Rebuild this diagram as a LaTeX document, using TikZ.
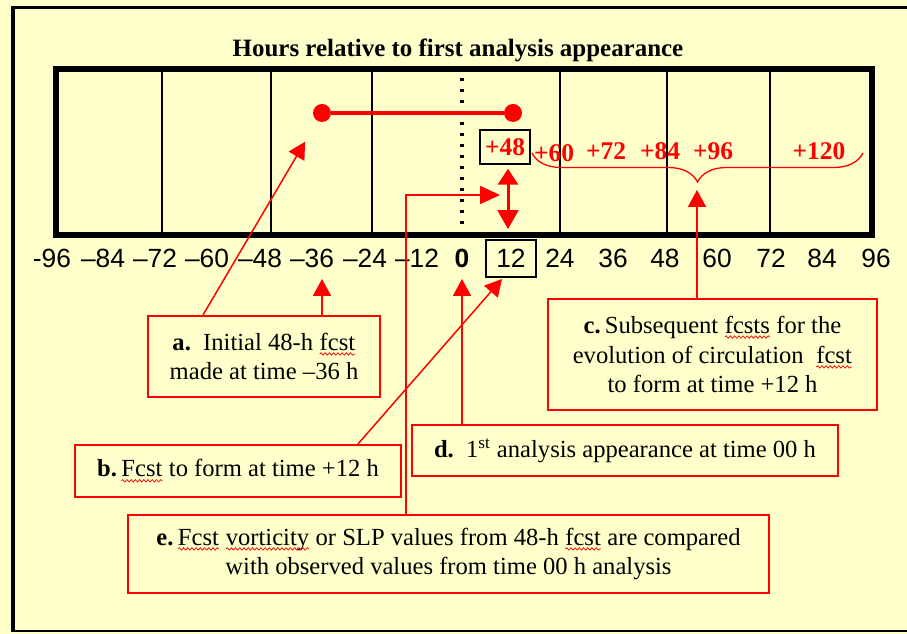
\documentclass[tikz,border=0pt]{standalone}
\usepackage{fontspec}
\setmainfont{Liberation Serif}
\newfontfamily\axisfont{Liberation Sans}
\usetikzlibrary{arrows.meta,decorations.pathreplacing,decorations.pathmorphing}

\definecolor{paper}{RGB}{255,255,204}
\newlength\px
\setlength\px{0.02cm}

% red wavy underline (spell checker marks)
\newcommand\redwave[1]{\tikz[baseline=(w.base)]{%
		\node[draw=none, fill=none, inner sep=0pt, outer sep=0pt, minimum size=0pt] (w) {#1};
		\draw[red, line width=0.4pt, decorate, decoration={snake, amplitude=0.7pt, segment length=2.4pt}]
		([yshift=-2.2pt]w.base west) -- ([yshift=-2.2pt]w.base east);}}

\begin{document}
\begin{tikzpicture}[x=\px, y=-\px,
		note/.style={
			draw=red,
			line width=2\px,
			align=center,
			inner sep=0pt,
			font=\fontsize{14}{17}\selectfont
		},
		tick/.style={inner sep=0pt, font=\axisfont\fontsize{15}{18}\selectfont},
		fc/.style={text=red, inner sep=1pt, font=\bfseries\fontsize{14.5}{17}\selectfont},
		grid/.style={draw, line width=1.3\px},
		dot/.style={circle, fill=red, inner sep=0pt, minimum size=18\px},
		pointer/.style={draw=red, line width=1.5\px, -{Triangle[length=9.6pt, width=10.2pt]}},
		twoway/.style={draw=red, line width=3\px,
			{Triangle[length=9.1pt, width=11.3pt]}-{Triangle[length=10.8pt, width=11.9pt]}}
		]
		
		% Page and frame
		\useasboundingbox (0,0) rectangle (907,634);
		\fill[paper] (0,0) rectangle (907,634);
		\clip (0,0) rectangle (907,634);
		\draw[line width=3\px] (920,8) -- (13,8);
		\draw[line width=4\px] (13,6.5) -- (13,632);
		\draw[line width=2\px] (12,631) -- (920,631);
		
		% Title
		\node[font=\bfseries\fontsize{14.2}{16}\selectfont] (title) at (458,50)
		{Hours relative to first analysis appearance};
		
		% Time strip
		\foreach \x in {162,271,372,560,667,770}
		\draw[grid] (\x,69) -- (\x,235);
		\draw[line width=3.2\px, dash pattern=on 3\px off 8\px] (462,78) -- (462,230);
		\draw[line width=6\px] (56,69) rectangle (872,235);
		
		% Hour axis
		\foreach \x/\lab/\nm in {52/-96/m96, 103/–84/m84, 155/–72/m72, 207/–60/m60,
			260/–48/m48, 312/–36/m36, 365/–24/m24, 417/–12/m12,
			560/24/p24, 613/36/p36, 665/48/p48, 717/60/p60, 771/72/p72,
			822/84/p84, 876/96/p96}
		\node[tick] (\nm) at (\x,258) {\lab};
		\node[tick, font=\axisfont\bfseries\fontsize{15}{18}\selectfont] (h0) at (462,258) {0};
		\node[tick, draw, line width=1.3\px, minimum width=50\px, minimum height=37\px] (h12) at (511,258.5) {12};
		
		% Initial 48-h forecast
		\node[dot] (dotL) at (322,113) {};
		\node[dot] (dotR) at (513,113) {};
		\draw[red, line width=4\px] (dotL) -- (dotR);
		
		% Forecast hours
		\node[fc, draw=black, line width=1.3\px, minimum width=50\px, minimum height=34\px] (f48) at (505,147) {+48};
		\node[fc] (f60) at (554,153) {+60};
		\node[fc] (f72) at (606,151) {+72};
		\node[fc] (f84) at (660,151) {+84};
		\node[fc] (f96) at (713,151) {+96};
		\node[fc] (f120) at (819,151) {+120};
		\draw[red, line width=1.3\px, decorate, decoration={brace, mirror, amplitude=29\px}]
		(532,153) -- (863,153);
		
		% Notes
		\node[note, minimum width=232\px, minimum height=81\px] (a) at (264,356.5)
		{\textbf{a.}\ \ Initial 48-h \redwave{fcst}\\made at time –36 h};
		
		\node[note, minimum width=326\px, minimum height=52\px] (b) at (238,471)
		{\textbf{b.}\,\redwave{Fcst} to form at time +12 h};
		
		\node[note, minimum width=329\px, minimum height=111\px] (c) at (712.5,354.5)
		{\textbf{c.}\,Subsequent \redwave{fcsts} for the\\evolution of circulation\ \ \redwave{fcst}\\to form at time +12 h};
		
		\node[note, minimum width=426\px, minimum height=51\px] (d) at (625,450.5)
		{\textbf{d.}\ \ 1\textsuperscript{st} analysis appearance at time 00 h};
		
		\node[note, minimum width=641\px, minimum height=78\px] (e) at (448.5,554)
		{\textbf{e.}\,\redwave{Fcst} \redwave{vorticity} or SLP values from 48-h \redwave{fcst} are compared\\with observed values from time 00 h analysis};
		
		% Pointers
		\coordinate (tipA) at (322,279);
		\coordinate (tipB) at (502,279);
		\coordinate (tipC) at (697,190);
		\coordinate (tipD) at (462,279);
		\coordinate (tipE) at (500,195);
		\coordinate (tipF) at (508,229);
		
		\draw[pointer, shorten >=24\px] ([xshift=-61\px]a.north) -- (dotL);
		\draw[pointer] (tipA |- a.north) -- (tipA);
		\draw[pointer] ([xshift=120\px]b.north) -- (tipB);
		\draw[pointer] (tipC |- c.north) -- (tipC);
		\draw[pointer] (tipD |- d.north) -- (tipD);
		\draw[pointer, -{Triangle[length=11.3pt, width=10.2pt]}] ([xshift=-42.5\px]e.north) |- (tipE);
		\draw[twoway, shorten <=4\px] ([xshift=3\px]f48.south) -- (tipF);
		
	\end{tikzpicture}
\end{document}
